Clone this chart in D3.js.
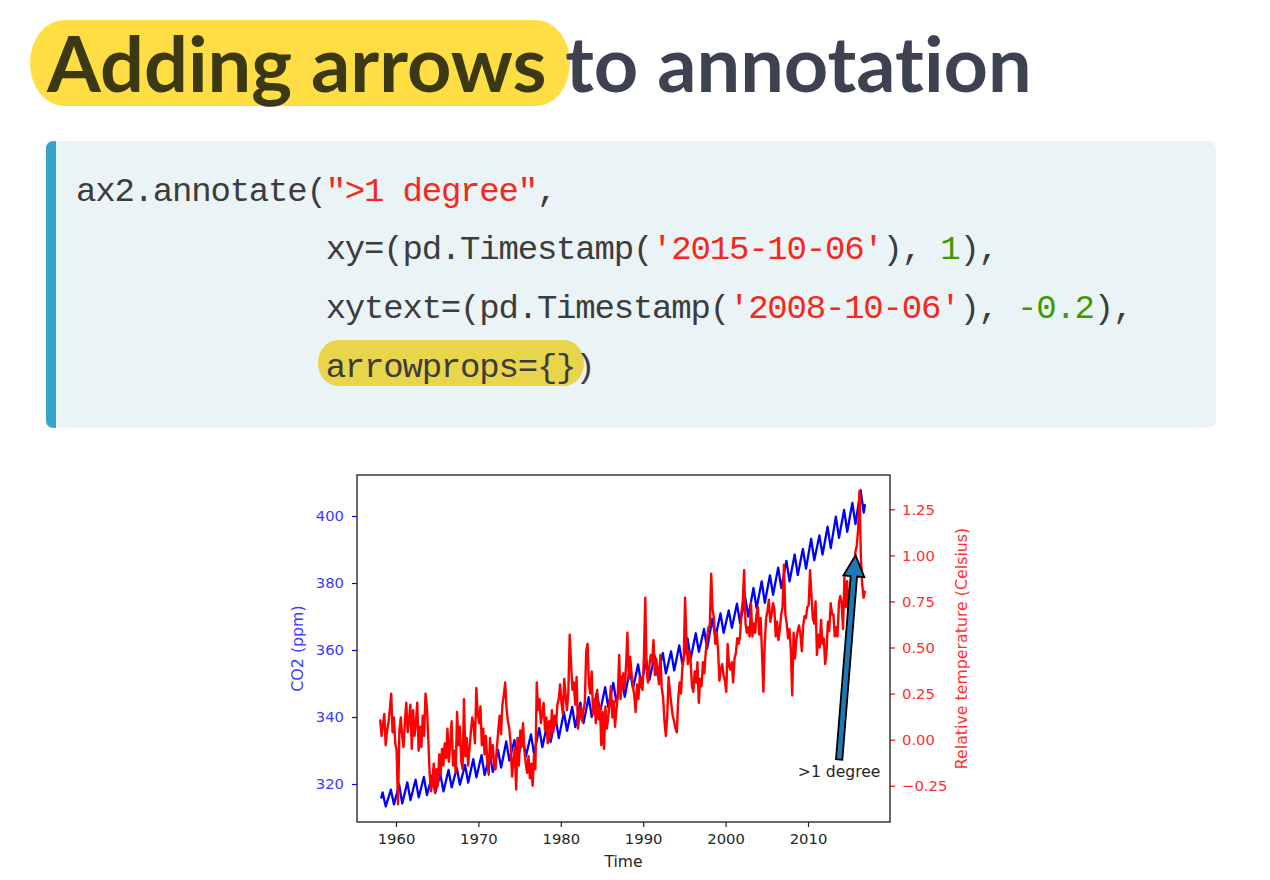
<!DOCTYPE html>
<html><head><meta charset="utf-8">
<script src="https://cdn.jsdelivr.net/npm/d3@7"></script>
<style>body{margin:0;background:#fff;} svg{display:block} text{font-variant-ligatures:none;}</style>
</head><body>
<svg id="c" width="1270" height="880"></svg>
<script>
// ---------- DATA ----------
const titleParts = ["Adding arrows", "to annotation"];
const codeLines = [
  [["ax2.annotate(", "t"], ["\">1 degree\"", "s"], [",", "t"]],
  [["             xy=(pd.Timestamp(", "t"], ["'2015-10-06'", "s"], ["), ", "t"], ["1", "n"], ["),", "t"]],
  [["             xytext=(pd.Timestamp(", "t"], ["'2008-10-06'", "s"], ["), ", "t"], ["-0.2", "n"], ["),", "t"]],
  [["             arrowprops={}", "t"], [")", "t"]]
];

const co2Years = d3.range(1958, 2017);
// CO2 (ppm): seasonal maximum (spring) and minimum (autumn) per year
const co2Peak = [317.5,318.3,319.9,320.5,321.3,322.1,322.5,322.9,324.2,324.8,
  325.7,327.4,328.6,328.9,330.2,332.7,333.1,334.0,334.8,336.7,
  338.2,339.7,341.5,343.0,344.3,345.9,347.5,348.9,350.2,352.0,
  354.2,355.7,357.0,358.4,359.1,359.6,361.4,363.5,365.0,366.3,
  369.3,370.9,371.8,373.8,375.7,378.5,380.5,382.3,384.6,386.6,
  388.5,390.2,393.2,394.2,396.8,399.8,401.8,403.9,407.7];
const co2Trough = [313.3,313.9,314.2,315.2,316.0,316.7,317.4,317.8,319.0,319.8,
  320.4,322.0,322.7,323.6,324.9,327.0,327.3,328.2,329.0,331.0,
  332.5,333.7,335.9,337.0,338.2,340.0,341.4,343.0,344.3,346.0,
  348.6,349.9,351.1,352.3,353.0,353.9,355.7,357.4,359.5,360.4,
  363.8,365.1,366.6,368.0,370.0,372.5,374.1,376.5,378.5,380.5,
  382.4,384.3,386.8,388.5,390.4,393.5,395.3,397.6,401.0];
const co2Start = [1958.2, 315.7];
const co2End = [2016.92, 403.5];

const tempYears = d3.range(1958, 2017);
// Relative temperature (Celsius), six readings per year
const tempValues = [
  [0.11,0.02,0.08,0.14,-0.03,0.05],
  [0.09,0.16,0.25,0.04,0.12,-0.02],
  [-0.06,-0.35,0.05,0.12,0.02,-0.04],
  [0.10,0.20,0.04,0.11,0.19,-0.05],
  [0.16,0.02,0.09,0.20,-0.06,0.07],
  [-0.04,0.13,0.02,0.25,0.18,0.01],
  [-0.18,-0.28,-0.22,-0.13,-0.29,-0.16],
  [-0.25,-0.08,-0.19,-0.05,-0.14,-0.02],
  [-0.10,0.06,-0.12,-0.02,0.10,-0.14],
  [-0.06,-0.18,0.15,-0.03,0.07,-0.11],
  [-0.16,0.22,-0.09,0.01,-0.14,-0.05],
  [0.04,0.12,0.08,-0.02,0.28,0.14],
  [0.09,0.18,-0.03,0.06,-0.08,0.02],
  [-0.12,-0.19,0.01,-0.10,-0.03,-0.15],
  [-0.16,-0.04,0.05,0.13,0.03,0.19],
  [0.24,0.31,0.17,0.10,0.06,-0.02],
  [-0.20,-0.12,-0.05,-0.27,0.01,-0.14],
  [0.05,-0.04,0.09,-0.06,-0.13,-0.18],
  [-0.09,-0.21,-0.13,-0.25,-0.08,-0.16],
  [0.31,0.16,0.22,0.09,0.14,0.20],
  [0.05,0.12,-0.02,0.10,0.01,0.16],
  [0.04,0.13,0.08,0.19,0.22,0.30],
  [0.20,0.14,0.33,0.24,0.16,0.26],
  [0.57,0.41,0.27,0.31,0.19,0.34],
  [0.06,0.12,0.18,0.10,0.16,0.20],
  [0.48,0.52,0.30,0.25,0.37,0.14],
  [0.22,0.09,0.27,0.11,0.18,-0.03],
  [0.15,-0.05,0.18,0.06,0.12,0.20],
  [0.29,0.12,0.21,0.07,0.16,0.24],
  [0.46,0.22,0.31,0.36,0.28,0.40],
  [0.58,0.33,0.45,0.36,0.29,0.24],
  [0.15,0.30,0.22,0.34,0.29,0.27],
  [0.44,0.77,0.38,0.31,0.40,0.46],
  [0.42,0.54,0.35,0.44,0.37,0.30],
  [0.46,0.28,0.23,0.10,0.02,0.13],
  [0.34,0.26,0.19,0.13,0.10,0.06],
  [0.04,0.22,0.31,0.25,0.39,0.44],
  [0.77,0.54,0.41,0.48,0.43,0.29],
  [0.26,0.37,0.31,0.42,0.20,0.33],
  [0.29,0.42,0.36,0.47,0.55,0.61],
  [0.62,0.90,0.71,0.66,0.52,0.58],
  [0.49,0.32,0.38,0.41,0.35,0.32],
  [0.26,0.52,0.40,0.38,0.42,0.31],
  [0.44,0.47,0.55,0.52,0.56,0.69],
  [0.75,0.92,0.63,0.58,0.61,0.56],
  [0.74,0.56,0.63,0.58,0.68,0.72],
  [0.57,0.66,0.47,0.26,0.52,0.66],
  [0.70,0.76,0.64,0.68,0.74,0.71],
  [0.56,0.64,0.54,0.60,0.68,0.72],
  [0.95,0.68,0.63,0.55,0.60,0.49],
  [0.24,0.58,0.44,0.54,0.59,0.62],
  [0.57,0.48,0.62,0.67,0.66,0.72],
  [0.73,0.92,0.78,0.66,0.63,0.75],
  [0.46,0.57,0.50,0.65,0.52,0.55],
  [0.41,0.48,0.64,0.59,0.74,0.68],
  [0.68,0.56,0.61,0.56,0.74,0.78],
  [0.74,0.60,0.88,0.72,0.86,0.66],
  [0.81,0.88,0.84,0.80,1.02,1.05],
  [1.14,1.35,0.99,0.84,0.77,0.81]
];

const xTicks = [1960, 1970, 1980, 1990, 2000, 2010];
const co2Ticks = [320, 340, 360, 380, 400];
const tempTicks = [-0.25, 0.00, 0.25, 0.50, 0.75, 1.00, 1.25];
const annText = ">1 degree";
const annXY = [2015.77, 1];
const annXYText = [2008.77, -0.2];

// ---------- DRAW ----------
const svg = d3.select("#c");

// Title
const titleG = svg.append("g");
titleG.append("rect").attr("x", 30).attr("y", 20).attr("width", 540).attr("height", 86)
  .attr("rx", 34).attr("ry", 43).attr("fill", "#ffdd44");
const title = titleG.append("text").attr("x", 47).attr("y", 92)
  .attr("font-family", "Lato").attr("font-weight", 700).attr("font-size", 78);
title.append("tspan").attr("fill", "#3b3914").text(titleParts[0]);
title.append("tspan").attr("fill", "#3d4250").text(" " + titleParts[1]);
const tw = title.node().getComputedTextLength();
title.attr("font-size", 78 * 985 / tw);

// Code block
const cb = svg.append("g");
cb.append("rect").attr("x", 46).attr("y", 141).attr("width", 1170).attr("height", 287)
  .attr("rx", 8).attr("fill", "#eaf3f6");
cb.append("path").attr("d", "M56,141 L54,141 Q46,141 46,149 L46,420 Q46,428 54,428 L56,428 Z").attr("fill", "#35a6ca");
cb.append("rect").attr("x", 318).attr("y", 340).attr("width", 266).attr("height", 46)
  .attr("rx", 20).attr("ry", 23).attr("fill", "#e9d54b");
const codeColors = {t: "#3c3c3c", s: "#f5281a", n: "#3c9a00"};
const baselines = [201, 259, 318, 377];
codeLines.forEach((ln, i) => {
  const t = cb.append("text").attr("x", 76).attr("y", baselines[i])
    .attr("font-family", "Liberation Mono, DejaVu Sans Mono, monospace")
    .attr("font-size", 34).attr("letter-spacing", -1.2).attr("xml:space", "preserve")
    .style("white-space", "pre");
  ln.forEach(([s, k]) => t.append("tspan").attr("fill", codeColors[k]).text(s));
});

// Chart
const L = 357, R = 890, T = 475, B = 822;
const x = d3.scaleLinear().domain([1955.27, 2019.95]).range([L, R]);
const yL = d3.scaleLinear().domain([308.66, 412.24]).range([B, T]);
const yR = d3.scaleLinear().domain([-0.4466, 1.436]).range([B, T]);

const co2Pts = [co2Start];
co2Years.forEach((yr, i) => {
  co2Pts.push([yr + 0.38, co2Peak[i]]);
  co2Pts.push([yr + 0.76, co2Trough[i]]);
});
co2Pts.push(co2End);

const tempPts = [];
tempYears.forEach((yr, i) => tempValues[i].forEach((v, j) => tempPts.push([yr + (j + 0.5) / 6, v])));

const chart = svg.append("g");
chart.append("path").datum(co2Pts)
  .attr("d", d3.line().x(d => x(d[0])).y(d => yL(d[1])))
  .attr("fill", "none").attr("stroke", "#0000ff").attr("stroke-width", 2.3).attr("stroke-linejoin", "round");
chart.append("path").datum(tempPts)
  .attr("d", d3.line().x(d => x(d[0])).y(d => yR(d[1])))
  .attr("fill", "none").attr("stroke", "#ff0000").attr("stroke-width", 2.4).attr("stroke-linejoin", "round");

// Axes
const fontFam = "DejaVu Sans, sans-serif";
function styleAxis(g, color) {
  g.select(".domain").remove();
  g.selectAll(".tick line").attr("stroke", color).attr("stroke-width", 1.2);
  g.selectAll(".tick text").attr("fill", color).attr("font-family", fontFam).attr("font-size", 14.8);
}
const gx = chart.append("g").attr("transform", `translate(0,${B})`)
  .call(d3.axisBottom(x).tickValues(xTicks).tickFormat(d3.format("d")).tickSize(5).tickPadding(6));
styleAxis(gx, "#262626");
const gl = chart.append("g").attr("transform", `translate(${L},0)`)
  .call(d3.axisLeft(yL).tickValues(co2Ticks).tickFormat(d3.format("d")).tickSize(5).tickPadding(8));
styleAxis(gl, "#0000ff");
gl.selectAll(".tick text").attr("fill", "#3a3aff");
const gr = chart.append("g").attr("transform", `translate(${R},0)`)
  .call(d3.axisRight(yR).tickValues(tempTicks).tickFormat(d3.format(".2f")).tickSize(5).tickPadding(7));
styleAxis(gr, "#ff0000");
gr.selectAll(".tick text").attr("fill", "#ff3030");

chart.append("rect").attr("x", L).attr("y", T).attr("width", R - L).attr("height", B - T)
  .attr("fill", "none").attr("stroke", "#1a1a1a").attr("stroke-width", 1.3);

chart.append("text").attr("x", (L + R) / 2).attr("y", 867).attr("text-anchor", "middle")
  .attr("font-family", fontFam).attr("font-size", 15.6).attr("fill", "#262626").text("Time");
chart.append("text").attr("transform", `translate(303,${(T + B) / 2}) rotate(-90)`)
  .attr("text-anchor", "middle").attr("font-family", fontFam).attr("font-size", 15.8)
  .attr("fill", "#3a3aff").text("CO2 (ppm)");
chart.append("text").attr("transform", `translate(967,${(T + B) / 2}) rotate(-90)`)
  .attr("text-anchor", "middle").attr("font-family", fontFam).attr("font-size", 15.8)
  .attr("fill", "#ff3030").text("Relative temperature (Celsius)");

// Annotation
const at = chart.append("text").attr("x", x(annXYText[0])).attr("y", yR(annXYText[1]))
  .attr("font-family", fontFam).attr("font-size", 15.6).attr("fill", "#262626").text(annText);
const bb = at.node().getBBox();
const tail = [bb.x + bb.width / 2, bb.y - 3];
const tip = [x(annXY[0]), yR(annXY[1])];
const dx = tip[0] - tail[0], dy = tip[1] - tail[1];
const len = Math.hypot(dx, dy);
const ux = dx / len, uy = dy / len, nx = -uy, ny = ux;
const sw = 3.2, hw = 10.5, hl = 21;
const base = [tip[0] - ux * hl, tip[1] - uy * hl];
const pts = [
  [tail[0] + nx * sw, tail[1] + ny * sw],
  [base[0] + nx * sw, base[1] + ny * sw],
  [base[0] + nx * hw, base[1] + ny * hw],
  tip,
  [base[0] - nx * hw, base[1] - ny * hw],
  [base[0] - nx * sw, base[1] - ny * sw],
  [tail[0] - nx * sw, tail[1] - ny * sw]
];
chart.append("path").attr("d", d3.line()(pts) + "Z")
  .attr("fill", "#1f77b4").attr("stroke", "#000").attr("stroke-width", 1.8).attr("stroke-linejoin", "miter");
</script>
</body></html>
